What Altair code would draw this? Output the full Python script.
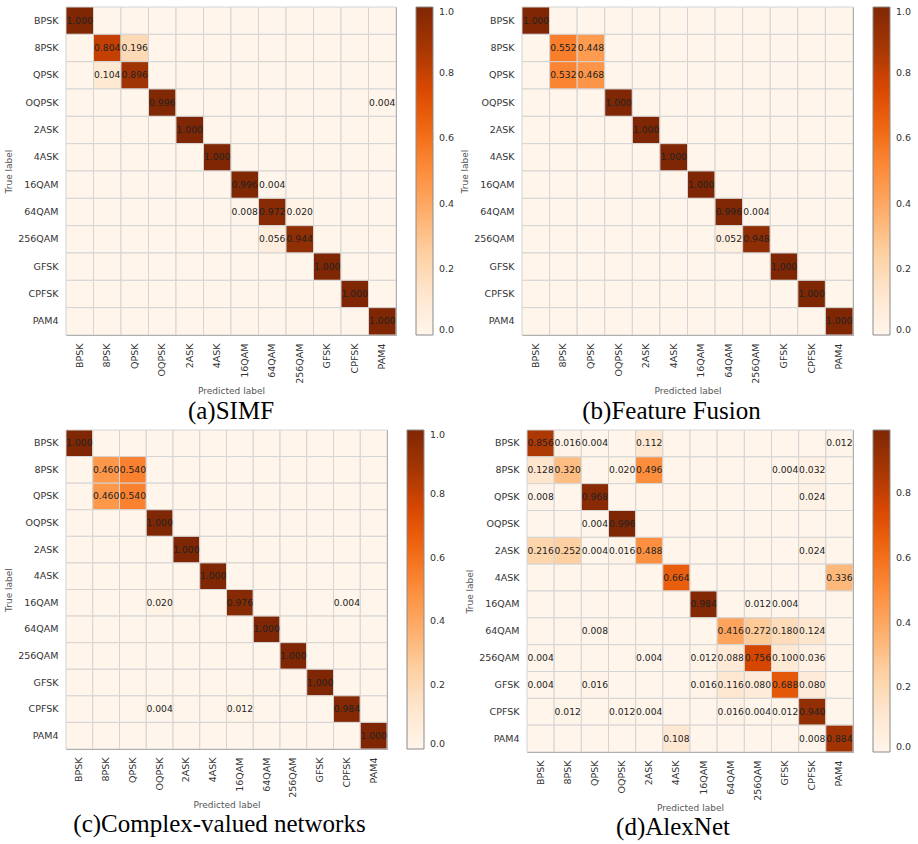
import altair as alt
import pandas as pd

# Modulation classes (rows = true label, columns = predicted label)
labels = ["BPSK", "8PSK", "QPSK", "OQPSK", "2ASK", "4ASK",
          "16QAM", "64QAM", "256QAM", "GFSK", "CPFSK", "PAM4"]

# (a) SIMF
cm_simf = [
    [1.000, 0, 0, 0, 0, 0, 0, 0, 0, 0, 0, 0],
    [0, 0.804, 0.196, 0, 0, 0, 0, 0, 0, 0, 0, 0],
    [0, 0.104, 0.896, 0, 0, 0, 0, 0, 0, 0, 0, 0],
    [0, 0, 0, 0.996, 0, 0, 0, 0, 0, 0, 0, 0.004],
    [0, 0, 0, 0, 1.000, 0, 0, 0, 0, 0, 0, 0],
    [0, 0, 0, 0, 0, 1.000, 0, 0, 0, 0, 0, 0],
    [0, 0, 0, 0, 0, 0, 0.996, 0.004, 0, 0, 0, 0],
    [0, 0, 0, 0, 0, 0, 0.008, 0.972, 0.020, 0, 0, 0],
    [0, 0, 0, 0, 0, 0, 0, 0.056, 0.944, 0, 0, 0],
    [0, 0, 0, 0, 0, 0, 0, 0, 0, 1.000, 0, 0],
    [0, 0, 0, 0, 0, 0, 0, 0, 0, 0, 1.000, 0],
    [0, 0, 0, 0, 0, 0, 0, 0, 0, 0, 0, 1.000],
]

# (b) Feature Fusion
cm_fusion = [
    [1.000, 0, 0, 0, 0, 0, 0, 0, 0, 0, 0, 0],
    [0, 0.552, 0.448, 0, 0, 0, 0, 0, 0, 0, 0, 0],
    [0, 0.532, 0.468, 0, 0, 0, 0, 0, 0, 0, 0, 0],
    [0, 0, 0, 1.000, 0, 0, 0, 0, 0, 0, 0, 0],
    [0, 0, 0, 0, 1.000, 0, 0, 0, 0, 0, 0, 0],
    [0, 0, 0, 0, 0, 1.000, 0, 0, 0, 0, 0, 0],
    [0, 0, 0, 0, 0, 0, 1.000, 0, 0, 0, 0, 0],
    [0, 0, 0, 0, 0, 0, 0, 0.996, 0.004, 0, 0, 0],
    [0, 0, 0, 0, 0, 0, 0, 0.052, 0.948, 0, 0, 0],
    [0, 0, 0, 0, 0, 0, 0, 0, 0, 1.000, 0, 0],
    [0, 0, 0, 0, 0, 0, 0, 0, 0, 0, 1.000, 0],
    [0, 0, 0, 0, 0, 0, 0, 0, 0, 0, 0, 1.000],
]

# (c) Complex-valued networks
cm_complex = [
    [1.000, 0, 0, 0, 0, 0, 0, 0, 0, 0, 0, 0],
    [0, 0.460, 0.540, 0, 0, 0, 0, 0, 0, 0, 0, 0],
    [0, 0.460, 0.540, 0, 0, 0, 0, 0, 0, 0, 0, 0],
    [0, 0, 0, 1.000, 0, 0, 0, 0, 0, 0, 0, 0],
    [0, 0, 0, 0, 1.000, 0, 0, 0, 0, 0, 0, 0],
    [0, 0, 0, 0, 0, 1.000, 0, 0, 0, 0, 0, 0],
    [0, 0, 0, 0.020, 0, 0, 0.976, 0, 0, 0, 0.004, 0],
    [0, 0, 0, 0, 0, 0, 0, 1.000, 0, 0, 0, 0],
    [0, 0, 0, 0, 0, 0, 0, 0, 1.000, 0, 0, 0],
    [0, 0, 0, 0, 0, 0, 0, 0, 0, 1.000, 0, 0],
    [0, 0, 0, 0.004, 0, 0, 0.012, 0, 0, 0, 0.984, 0],
    [0, 0, 0, 0, 0, 0, 0, 0, 0, 0, 0, 1.000],
]

# (d) AlexNet
cm_alexnet = [
    [0.856, 0.016, 0.004, 0, 0.112, 0, 0, 0, 0, 0, 0, 0.012],
    [0.128, 0.320, 0, 0.020, 0.496, 0, 0, 0, 0, 0.004, 0.032, 0],
    [0.008, 0, 0.968, 0, 0, 0, 0, 0, 0, 0, 0.024, 0],
    [0, 0, 0.004, 0.996, 0, 0, 0, 0, 0, 0, 0, 0],
    [0.216, 0.252, 0.004, 0.016, 0.488, 0, 0, 0, 0, 0, 0.024, 0],
    [0, 0, 0, 0, 0, 0.664, 0, 0, 0, 0, 0, 0.336],
    [0, 0, 0, 0, 0, 0, 0.984, 0, 0.012, 0.004, 0, 0],
    [0, 0, 0.008, 0, 0, 0, 0, 0.416, 0.272, 0.180, 0.124, 0],
    [0.004, 0, 0, 0, 0.004, 0, 0.012, 0.088, 0.756, 0.100, 0.036, 0],
    [0.004, 0, 0.016, 0, 0, 0, 0.016, 0.116, 0.080, 0.688, 0.080, 0],
    [0, 0.012, 0, 0.012, 0.004, 0, 0, 0.016, 0.004, 0.012, 0.940, 0],
    [0, 0, 0, 0, 0, 0.108, 0, 0, 0, 0, 0.008, 0.884],
]

SANS = "DejaVu Sans"
SERIF = "Liberation Serif"

# Sequential "Oranges" ramp (ColorBrewer, 9 classes), interpolated linearly
ORANGES = ["#fff5eb", "#fee6ce", "#fdd0a2", "#fdae6b", "#fd8d3c",
           "#f16913", "#d94801", "#a63603", "#7f2704"]


def to_frame(matrix):
    rows = []
    for i, true_lab in enumerate(labels):
        for j, pred_lab in enumerate(labels):
            rows.append({"true": true_lab, "pred": pred_lab, "value": matrix[i][j]})
    return pd.DataFrame(rows)


def panel(matrix, caption, width, height, legend_values, caption_dx, caption_offset):
    df = to_frame(matrix)
    vmax = max(max(r) for r in matrix)
    stops = [vmax * k / (len(ORANGES) - 1) for k in range(len(ORANGES))]
    x = alt.X("pred:N", sort=labels, title="Predicted label",
              scale=alt.Scale(paddingInner=0, paddingOuter=0),
              axis=alt.Axis(labelAngle=270, labelPadding=8, titlePadding=3))
    y = alt.Y("true:N", sort=labels, title="True label",
              scale=alt.Scale(paddingInner=0, paddingOuter=0),
              axis=alt.Axis(labelPadding=8, titlePadding=4))
    base = alt.Chart(df)
    cells = base.mark_rect(stroke="#d4d4d4", strokeWidth=1).encode(
        x=x, y=y,
        color=alt.Color(
            "value:Q",
            scale=alt.Scale(domain=stops, range=ORANGES, interpolate="rgb"),
            legend=alt.Legend(
                title=None, orient="right", offset=20, padding=0,
                gradientLength=height, gradientThickness=17,
                gradientStrokeColor="#8a8a8a", gradientStrokeWidth=1,
                values=legend_values, format=".1f",
                labelFont=SANS, labelFontSize=9.5, labelColor="#333333",
                labelOffset=6, labelBaseline="middle", labelOverlap=False,
            ),
        ),
    )
    numbers = base.mark_text(font=SANS, fontSize=9.2, color="#222222").encode(
        x=x, y=y, text=alt.Text("value:Q", format=".3f"),
    ).transform_filter("datum.value > 0")
    return alt.layer(cells, numbers).properties(
        width=width, height=height,
        title=alt.TitleParams(
            caption, orient="bottom", anchor="middle", frame="group",
            font=SERIF, fontSize=25, fontWeight="normal", color="black",
            offset=caption_offset, dx=caption_dx,
        ),
    )


ticks_full = [0.0, 0.2, 0.4, 0.6, 0.8, 1.0]
ticks_short = [0.0, 0.2, 0.4, 0.6, 0.8]

top = alt.hconcat(
    panel(cm_simf, "(a)SIMF", 330, 328, ticks_full, 0, 4),
    panel(cm_fusion, "(b)Feature Fusion", 331, 328, ticks_full, -16, 4),
    spacing=4,
).resolve_scale(color="independent")

bottom = alt.hconcat(
    panel(cm_complex, "(c)Complex-valued networks", 321, 319, ticks_full, -7, 3),
    panel(cm_alexnet, "(d)AlexNet", 326, 322, ticks_short, -17, 3),
    spacing=18,
).resolve_scale(color="independent")

chart = alt.vconcat(top, bottom, spacing=4).resolve_scale(color="independent").properties(
    padding={"left": 4, "top": 6, "right": 0, "bottom": 0},
    background="white",
).configure_view(
    stroke="#8c8c8c", strokeWidth=1,
).configure_axis(
    domain=False, ticks=False, grid=False,
    labelFont=SANS, labelFontSize=9.5, labelColor="#333333",
    titleFont=SANS, titleFontSize=9, titleFontWeight="normal", titleColor="#555555",
)

chart.save("out.html", embed_options={"renderer": "svg", "actions": False})
